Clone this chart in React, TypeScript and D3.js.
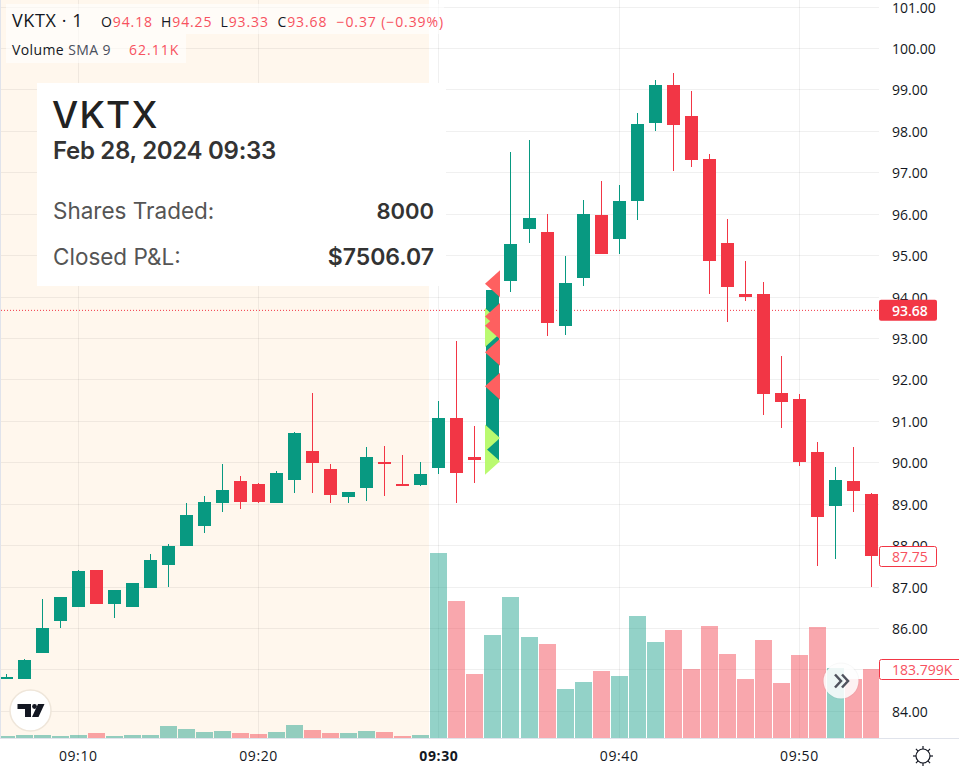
import * as d3 from "d3";

const minutes = [6,7,8,9,10,11,12,13,14,15,16,17,18,19,20,21,22,23,24,25,26,27,28,29,30,31,32,33,34,35,36,37,38,39,40,41,42,43,44,45,46,47,48,49,50,51,52,53,54];
const opens = [84.79,84.79,85.4,86.19,86.51,87.42,86.6,86.51,86.99,87.54,88,88.48,89.04,89.55,89.5,89.02,89.59,90.29,89.86,89.18,89.4,90.03,89.5,89.47,89.88,91.09,90.15,90.04,94.4,95.65,95.56,93.31,94.45,95.99,95.41,96.33,98.21,99.13,98.36,97.34,95.31,94.08,94.08,91.69,91.55,90.27,88.96,89.57,89.25];
const closes = [84.82,85.23,86.02,86.77,87.4,86.6,86.92,87.09,87.66,88,88.75,89.06,89.35,89.06,89.06,89.76,90.73,90,89.23,89.3,90.15,89.98,89.43,89.74,91.09,89.76,90.08,94.16,95.27,95.92,93.38,94.35,96,95.03,96.33,98.19,99.13,98.16,97.32,94.86,94.25,94.01,91.67,91.48,90.01,88.7,89.59,89.33,87.75];
const highs = [84.91,85.27,86.72,86.77,87.42,87.42,86.92,87.09,87.81,88.03,89.02,89.21,89.96,89.69,89.52,89.81,90.75,91.69,89.98,89.3,90.39,90.41,90.2,90.03,91.5,92.95,90.9,94.16,97.51,97.8,96,95,96.35,96.81,96.71,98.45,99.25,99.42,98.98,97.46,95.89,94.86,94.37,92.59,91.65,90.51,89.91,90.39,89.28];
const lows = [84.79,84.79,85.4,86.02,86.51,86.6,86.26,86.51,86.99,87.01,88,88.31,88.82,88.89,89.02,89.02,89.28,89.26,89.02,89.02,89.09,89.21,89.43,89.45,89.72,89.04,89.52,90.04,94.13,95.31,93.07,93.09,94.28,95.03,95.05,95.87,98.02,97.05,97.15,94.08,93.41,93.91,91.16,90.85,89.92,87.52,87.69,88.82,87.01];
const volumes = [5.3,8,8,5.3,8,13.3,5.3,8,8,32,24,16,18.6,13.3,10.7,16,34.6,21.3,13.3,13.3,18.6,16,5.3,8,493,365,170.5,274,376,269,250,130,149,178,165,325,256,288,184,298,224,157,261,147,221,296,186,157,183.8];

const sellMarkers = [94.32, 93.53, 93.31, 92.67, 91.85];
const buyMarkers = [93.41, 93.12, 90.6, 90.04];
const markerMinute = 33;

const priceTicks = [84,86,87,88,89,90,91,92,93,94,95,96,97,98,99,100,101];
const gridPrices = [84,85,86,87,88,89,90,91,92,93,94,95,96,97,98,99,100,101];
const timeTicks = [10,20,30,40,50];
const sessionStart = 29.5;
const lastPrice = 93.68;
const lastClose = 87.75;
const lastVolume = "183.799K";

const UP = "#089981";
const DOWN = "#f23645";
const DOWN_TEXT = "#f7525f";
const W = 959;
const PLOT_R = 879;
const PLOT_B = 738;
const axisFont = "'Open Sans', sans-serif";
const boxFont = "Inter, sans-serif";

const x = d3.scaleLinear().domain([10, 50]).range([78.27, 799.47]);
const y = d3.scaleLinear().domain([84, 101]).range([711.4, 7.1]);
const yVol = d3.scaleLinear().domain([0, 493]).range([PLOT_B, 553]);
const timeLabel = (m: number) => `09:${d3.format("02")(m)}`;
// bars snap to whole pixels the way the chart canvas does
const px = (m: number) => Math.floor(x(m));

export default function App() {
  const bodyTop = (i: number) => Math.round(y(Math.max(opens[i], closes[i])));
  const bodyBottom = (i: number) => Math.round(y(Math.min(opens[i], closes[i])));
  const isUp = (i: number) => closes[i] >= opens[i];

  return (
    <svg width={W} height={775} style={{ position: "absolute", left: 0, top: 0, display: "block", background: "#fff" }}>
      <defs>
        <clipPath id="plot">
          <rect x={1} y={0} width={PLOT_R - 1} height={PLOT_B} />
        </clipPath>
      </defs>

      {/* pre-market shading */}
      <rect x={1} y={0} width={px(sessionStart) - 1} height={PLOT_B} fill="#fff7ed" />

      {/* grid */}
      <g stroke="#000" strokeOpacity={0.06} strokeWidth={1} shapeRendering="crispEdges">
        {gridPrices.map((p) => (
          <line key={p} x1={1} x2={PLOT_R} y1={Math.floor(y(p)) + 0.5} y2={Math.floor(y(p)) + 0.5} />
        ))}
        {timeTicks.map((m) => (
          <line key={m} x1={px(m) + 0.5} x2={px(m) + 0.5} y1={0} y2={PLOT_B} />
        ))}
      </g>

      {/* volume */}
      <g clipPath="url(#plot)" shapeRendering="crispEdges">
        {minutes.map((m, i) => (
          <rect
            key={m}
            x={px(m) - 8}
            width={17}
            y={Math.round(yVol(volumes[i]))}
            height={PLOT_B - Math.round(yVol(volumes[i]))}
            fill={isUp(i) ? UP : DOWN}
            fillOpacity={0.44}
          />
        ))}
      </g>

      {/* last price line */}
      <line x1={1} x2={PLOT_R} y1={y(lastPrice)} y2={y(lastPrice)} stroke={DOWN} strokeWidth={1} strokeDasharray="1 2" />

      {/* candles */}
      <g clipPath="url(#plot)" shapeRendering="crispEdges">
        {minutes.map((m, i) => (
          <g key={m} fill={isUp(i) ? UP : DOWN}>
            <rect x={px(m)} width={1} y={Math.round(y(highs[i]))} height={Math.max(0, Math.round(y(lows[i])) - Math.round(y(highs[i])))} />
            <rect x={px(m) - 6} width={13} y={bodyTop(i)} height={Math.max(1, bodyBottom(i) - bodyTop(i))} />
          </g>
        ))}
      </g>

      {/* trade markers */}
      <g fill="#bafa70">
        {buyMarkers.map((p) => (
          <path key={p} transform={`translate(${px(markerMinute) - 7},${y(p)})`} d="M0,-13.5L15,0L0,13.5Z" />
        ))}
      </g>
      <g fill="#fe6060">
        {sellMarkers.map((p) => (
          <path key={p} transform={`translate(${px(markerMinute) + 8},${y(p)})`} d="M0,-13.5L-15,0L0,13.5Z" />
        ))}
      </g>

      {/* axes */}
      <rect x={0} y={0} width={1} height={PLOT_B} fill="#e0e3eb" />
      <rect x={0} y={PLOT_B} width={W} height={1} fill="#e0e3eb" />
      <g fontFamily={axisFont} fontSize={14} fill="#131722" dominantBaseline="central">
        {priceTicks.map((p) => (
          <text key={p} x={892} y={y(p)}>{p.toFixed(2)}</text>
        ))}
      </g>
      <g fontFamily={axisFont} fontSize={14} fill="#131722" textAnchor="middle" letterSpacing={0.6}>
        {timeTicks.map((m) => (
          <text key={m} x={x(m)} y={761} fontWeight={m === 30 ? 700 : 400}>{timeLabel(m)}</text>
        ))}
      </g>

      {/* price tags */}
      <rect x={PLOT_R} y={y(lastPrice) - 10.5} width={58} height={21} rx={2} fill={DOWN} />
      <text x={892} y={y(lastPrice)} fontFamily={axisFont} fontSize={14} fontWeight={600} fill="#fff" dominantBaseline="central">{lastPrice.toFixed(2)}</text>
      <rect x={PLOT_R + 0.5} y={546.5} width={57} height={20} rx={2} fill="#fff" stroke={DOWN} />
      <text x={892} y={y(lastClose)} fontFamily={axisFont} fontSize={14} fill={DOWN_TEXT} dominantBaseline="central">{lastClose.toFixed(2)}</text>
      <rect x={PLOT_R + 0.5} y={659.5} width={90} height={20} rx={2} fill="#fff" stroke={DOWN} />
      <text x={892} y={yVol(183.8)} fontFamily={axisFont} fontSize={14} fill={DOWN_TEXT} dominantBaseline="central">{lastVolume}</text>

      {/* legend */}
      <rect x={6} y={4} width={438} height={30} fill="#fff" fillOpacity={0.6} />
      <rect x={6} y={34} width={180} height={29} fill="#fff" fillOpacity={0.6} />
      <g fontFamily={axisFont}>
        <text x={12} y={27} fontSize={18} fill="#131722" letterSpacing={0.6}>VKTX · 1</text>
        <g fontSize={14} fill={DOWN_TEXT} letterSpacing={0.9}>
          <text x={101} y={27}><tspan fill="#131722">O</tspan>94.18</text>
          <text x={161} y={27}><tspan fill="#131722">H</tspan>94.25</text>
          <text x={220.5} y={27}><tspan fill="#131722">L</tspan>93.33</text>
          <text x={277.5} y={27}><tspan fill="#131722">C</tspan>93.68</text>
          <text x={336.5} y={27}>−0.37 (−0.39%)</text>
        </g>
        <text x={12} y={55} fontSize={14} fill="#131722" letterSpacing={0.4}>Volume <tspan fill="#4a4f5c">SMA 9</tspan></text>
        <text x={129} y={55} fontSize={14} fill={DOWN_TEXT} letterSpacing={1}>62.11K</text>
      </g>

      {/* trade summary box */}
      <rect x={37} y={83} width={409} height={203} fill="#fff" />
      <g fontFamily={boxFont}>
        <text x={52} y={128} fontSize={37} fontWeight={500} fill="#222" letterSpacing={1.2}>VKTX</text>
        <text x={53} y={159} fontSize={24} fontWeight={600} fill="#333" letterSpacing={-0.3}>Feb 28, 2024 09:33</text>
        <text x={53} y={219} fontSize={22.5} fill="#555">Shares Traded:</text>
        <text x={434} y={219} fontSize={22} fontWeight={600} textAnchor="end" fill="#333">8000</text>
        <text x={53} y={265} fontSize={22.5} fill="#555">Closed P&amp;L:</text>
        <text x={434} y={265} fontSize={23} fontWeight={600} textAnchor="end" fill="#333">$7506.07</text>
      </g>

      {/* logo */}
      <circle cx={30.5} cy={710.5} r={20.5} fill="#fff" stroke="#efe6da" strokeWidth={1.5} />
      <path d="M17.5,704H31V717H25V709H17.5ZM38,704H44.5L38.5,717H32Z" fill="#131722" />
      <circle cx={34.5} cy={706.5} r={2.4} fill="#131722" />

      {/* scroll button */}
      <circle cx={841} cy={681} r={18.5} fill="#000" fillOpacity={0.03} />
      <circle cx={841} cy={681} r={17.5} fill="#fff" fillOpacity={0.85} />
      <path d="M835,674.5L841,681L835,687.5M842,674.5L848,681L842,687.5" fill="none" stroke="#50535e" strokeWidth={2.5} />

      {/* settings */}
      <g transform="translate(923,756)" stroke="#131722" strokeWidth={1.2} fill="none">
        <circle r={7} />
        {d3.range(8).map((k) => (
          <line key={k} x1={0} x2={0} y1={-7} y2={-10} transform={`rotate(${k * 45})`} />
        ))}
      </g>
    </svg>
  );
}
